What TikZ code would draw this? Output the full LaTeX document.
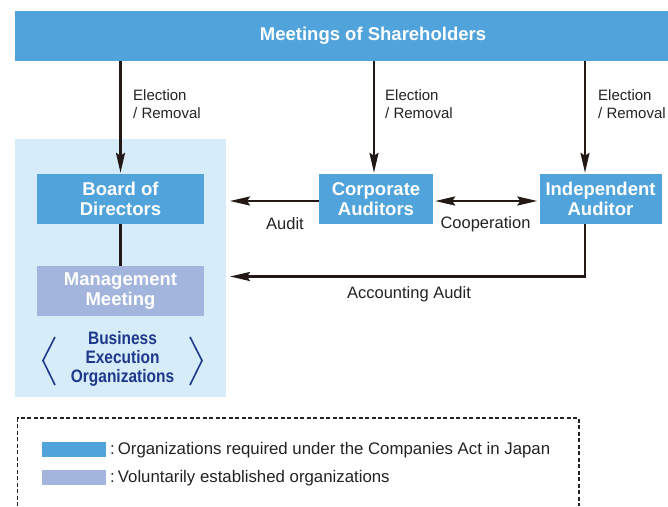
\documentclass[tikz,border=0pt]{standalone}
\usepackage{fontspec}
\setmainfont{Liberation Sans}
\newfontfamily\narrowbold[FakeStretch=0.86]{Liberation Sans Bold}
\usetikzlibrary{arrows.meta}
\definecolor{blueA}{RGB}{80,163,219}
\definecolor{lightbg}{RGB}{214,236,249}
\definecolor{lavender}{RGB}{163,181,221}
\definecolor{darkblue}{RGB}{30,56,140}
\definecolor{arrowc}{RGB}{35,24,21}
\definecolor{txtc}{RGB}{35,35,35}
\begin{document}
\begin{tikzpicture}[x=1pt,y=-1pt,
  conn/.style={draw=arrowc, line width=2.3pt},
  arr/.style={conn, -{Stealth[length=20pt,width=9pt,inset=3pt]}, shorten >=1pt},
  arr2/.style={conn, {Stealth[length=20pt,width=9pt,inset=3pt]}-{Stealth[length=20pt,width=9pt,inset=3pt]}, shorten >=2pt, shorten <=2pt},
  boxfont/.style={font=\bfseries\fontsize{18.5}{20.5}\selectfont},
  orgbox/.style={boxfont, fill=blueA, text=white, align=center, inner sep=0pt, minimum height=50pt},
  volbox/.style={orgbox, fill=lavender},
  lbl/.style={text=txtc, inner sep=0pt, font=\fontsize{16.5}{19}\selectfont},
  elbl/.style={text=txtc, inner sep=0pt, anchor=west, align=left, font=\fontsize{15}{17.5}\selectfont},
  bracket/.style={draw=darkblue, line width=1.6pt},
  swatch/.style={inner sep=0pt, minimum width=64pt, minimum height=14.5pt},
  legtext/.style={text=txtc, inner sep=0pt, anchor=west, font=\fontsize{16.8}{19}\selectfont},
  legbox/.style={draw=txtc, line width=1.2pt, dash pattern=on 4pt off 2.5pt}
]
\useasboundingbox (0,0) rectangle (668,506);
\fill[white] (0,0) rectangle (668,506);

% light background region
\fill[lightbg] (15,139) rectangle (226,397);

% header
\node[boxfont, fill=blueA, text=white, inner sep=0pt, minimum width=653pt, minimum height=50pt] (sh) at (341.5,36) {\hspace*{63pt}Meetings of Shareholders};

% boxes
\node[orgbox, minimum width=167pt] (board) at (120.5,199) {Board of\\Directors};
\node[volbox, minimum width=167pt] (mgmt) at (120.5,291) {Management\\Meeting};
\node[orgbox, minimum width=114pt] (corp) at (376,199) {Corporate\\Auditors};
\node[orgbox, minimum width=122pt] (ind) at (600.5,199) {Independent\\Auditor};

% business execution organizations
\node[font=\narrowbold\fontsize{18}{19}\selectfont, text=darkblue, align=center, inner sep=0pt] (biz) at (122.5,359) {Business\\Execution\\Organizations};
\draw[bracket] (55,337) -- (43,360.5) -- (55,385);
\draw[bracket] (190,337) -- (202,360.5) -- (190,385);

% election arrows
\draw[arr] (sh.south -| board.north) -- (board.north);
\draw[arr] (sh.south -| 374,0) -- (corp.north -| 374,0);
\draw[arr] (sh.south -| 585,0) -- (ind.north -| 585,0);
\node[elbl] (e1) at (133,104) {Election\\/ Removal};
\node[elbl] (e2) at (385,104) {Election\\/ Removal};
\node[elbl] (e3) at (598,104) {Election\\/ Removal};

% board - management
\draw[conn] (board.south) -- (mgmt.north);

% audit
\coordinate (auditend) at (229,201);
\draw[arr] (corp.west |- auditend) -- (auditend);
\node[lbl] (audit) at (285,224) {Audit};

% cooperation
\draw[arr2] (corp.east |- auditend) -- (ind.west |- auditend);
\node[lbl] (coop) at (485.5,224) {Cooperation};

% accounting audit
\coordinate (acctend) at (229,276.5);
\draw[arr] (ind.south -| 585,0) |- (acctend);
\node[lbl] (acct) at (409,294) {Accounting Audit};

% legend
\draw[legbox] (17.5,506) -- (17.5,418) -- (579,418) -- (579,506);
\node[swatch, fill=blueA] (sw1) at (73.7,449.5) {};
\node[swatch, fill=lavender] (sw2) at (73.7,477.5) {};
\node[legtext] (l1) at (110,450) {:\hspace{3pt}Organizations required under the Companies Act in Japan};
\node[legtext] (l2) at (110,478) {:\hspace{3pt}Voluntarily established organizations};
\end{tikzpicture}
\end{document}
